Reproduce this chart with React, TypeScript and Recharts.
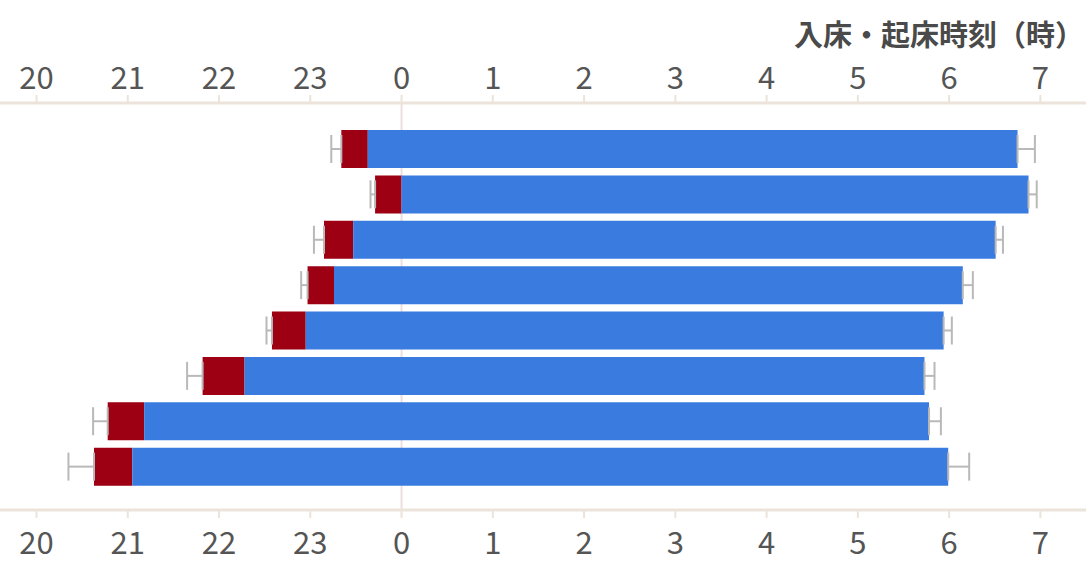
import React from 'react'
import { BarChart, Bar, XAxis, YAxis, ErrorBar, CartesianGrid } from 'recharts'

// Rows, top to bottom
const groups = ['G1', 'G2', 'G3', 'G4', 'G5', 'G6', 'G7', 'G8']

// Times in hours relative to midnight (negative = evening of the previous day)
const bedTime = [-0.66, -0.29, -0.85, -1.03, -1.42, -2.18, -3.22, -3.37]
const sleepOnset = [-0.37, 0.0, -0.53, -0.74, -1.05, -1.72, -2.82, -2.95]
const wakeTime = [6.75, 6.87, 6.51, 6.15, 5.94, 5.73, 5.78, 5.99]

// Spread shown as whiskers on bed time (left) and wake time (right)
const bedSD = [0.11, 0.05, 0.11, 0.07, 0.06, 0.17, 0.16, 0.28]
const wakeSD = [0.19, 0.09, 0.08, 0.11, 0.09, 0.11, 0.13, 0.23]

const hourTicks = [-4, -3, -2, -1, 0, 1, 2, 3, 4, 5, 6, 7]
const DOMAIN: [number, number] = [-4.4, 7.5]

const RED = '#9c0012'
const BLUE = '#3a7be0'
const AXIS = '#ece4da'
const WHISKER = '#b9b9b9'
const FONT = '"Noto Sans CJK JP", "Noto Sans", sans-serif'

// Stack: invisible lead-in up to bed time, latency to sleep onset, sleep until wake
const rows = groups.map((name, i) => ({
  name,
  lead: bedTime[i],
  latency: sleepOnset[i] - bedTime[i],
  sleep: wakeTime[i] - sleepOnset[i],
  bedErr: [bedSD[i], 0],
  wakeErr: [0, wakeSD[i]],
}))

const clock = (h: number) => String(h < 0 ? h + 24 : h)

const tickStyle = { fontSize: 31, fill: '#555', fontFamily: FONT }

// midnight gridline, kept behind the bars
const midnightLine = ({ offset }: any) => [
  offset.left + ((0 - DOMAIN[0]) / (DOMAIN[1] - DOMAIN[0])) * offset.width,
]

export default function App() {
  return (
    <div style={{ position: 'absolute', left: 0, top: 0, width: 1086, height: 562, background: '#fff' }}>
      <div
        style={{
          position: 'absolute',
          right: 2,
          top: 12,
          fontFamily: FONT,
          fontSize: 29,
          fontWeight: 'bold',
          color: '#4a4a4a',
          whiteSpace: 'nowrap',
        }}
      >
        入床・起床時刻（時）
      </div>
      <BarChart
        width={1086}
        height={562}
        data={rows}
        layout="vertical"
        stackOffset="none"
        margin={{ top: 53, right: 0, bottom: 2, left: 0 }}
      >
        <CartesianGrid
          xAxisId="b"
          horizontal={false}
          stroke="#eedede"
          strokeWidth={2}
          verticalCoordinatesGenerator={midnightLine}
        />
        <XAxis
          xAxisId="t"
          orientation="top"
          type="number"
          domain={DOMAIN}
          allowDataOverflow
          ticks={hourTicks}
          tickFormatter={clock}
          height={50}
          tick={tickStyle}
          tickSize={8}
          tickMargin={6}
          axisLine={{ stroke: AXIS, strokeWidth: 3 }}
          tickLine={{ stroke: AXIS, strokeWidth: 2 }}
        />
        <XAxis
          xAxisId="b"
          orientation="bottom"
          type="number"
          domain={DOMAIN}
          allowDataOverflow
          ticks={hourTicks}
          tickFormatter={clock}
          height={50}
          tick={tickStyle}
          tickSize={8}
          tickMargin={14}
          axisLine={{ stroke: AXIS, strokeWidth: 3 }}
          tickLine={{ stroke: AXIS, strokeWidth: 2 }}
        />
        <YAxis type="category" dataKey="name" hide padding={{ top: 23, bottom: 21 }} />
        <Bar dataKey="lead" stackId="s" xAxisId="b" fill="transparent" barSize={38} isAnimationActive={false}>
          <ErrorBar dataKey="bedErr" direction="x" width={14} stroke={WHISKER} strokeWidth={2} />
        </Bar>
        <Bar dataKey="latency" stackId="s" xAxisId="b" fill={RED} barSize={38} isAnimationActive={false} />
        <Bar dataKey="sleep" stackId="s" xAxisId="b" fill={BLUE} barSize={38} isAnimationActive={false}>
          <ErrorBar dataKey="wakeErr" direction="x" width={14} stroke={WHISKER} strokeWidth={2} />
        </Bar>
      </BarChart>
    </div>
  )
}
